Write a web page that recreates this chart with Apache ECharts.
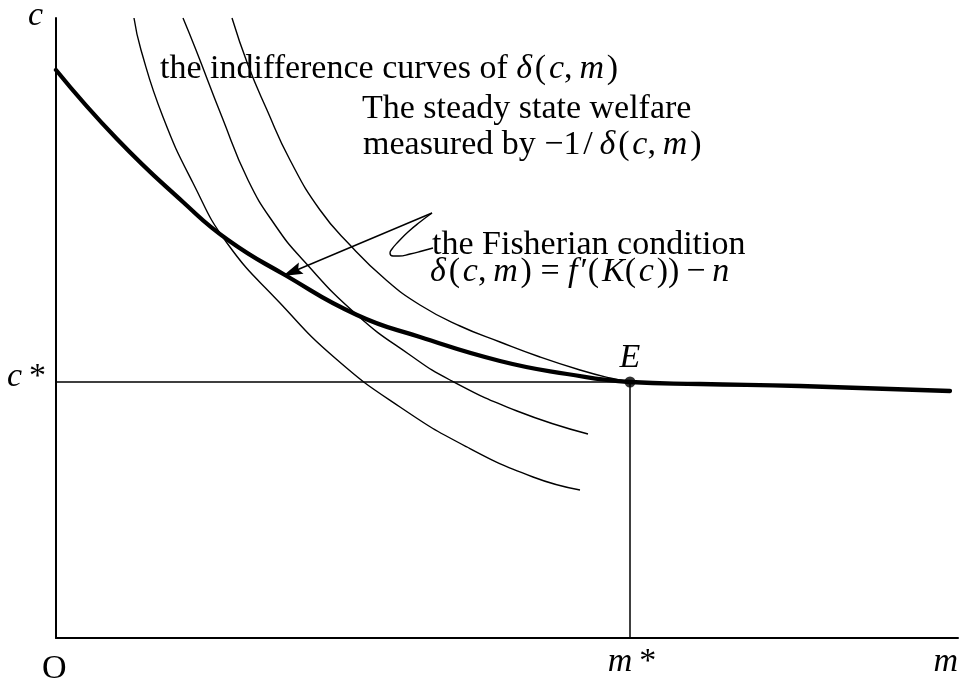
<!DOCTYPE html>
<html>
<head>
<meta charset="utf-8">
<script src="https://cdn.jsdelivr.net/npm/echarts@6/dist/echarts.min.js"></script>
<style>
  html, body { margin: 0; padding: 0; background: #fff; }
  #chart { width: 966px; height: 683px; }
</style>
</head>
<body>
<div id="chart"></div>
<script>
// Axis ranges (m horizontal, c vertical)
const mMax = 902;
const cMax = 620;

// Steady state point E = (m*, c*)
const mStar = 574;
const cStar = 256;

// Fisherian condition  δ(c,m) = f'(K(c)) − n
const fisherCurve = [
  [0, 568], [61, 499], [127, 436], [172, 398], [229, 363], [301, 323],
  [364, 301], [444, 277], [511, 264], [574, 256], [644, 254], [744, 252], [894, 247]
];

// Indifference curves of δ(c,m)
const indiffLow = [
  [78, 620], [85, 588], [107, 521], [137, 455], [171, 395], [224, 335],
  [279, 280], [344, 231], [411, 191], [477, 161], [524, 148]
];
const indiffMid = [
  [127, 620], [140, 588], [166, 521], [192, 458], [219, 413], [247, 378],
  [301, 323], [354, 283], [394, 258], [461, 227], [532, 204]
];
const indiffHigh = [
  [176, 620], [192, 573], [211, 528], [234, 478], [264, 428], [294, 393],
  [329, 359], [364, 333], [404, 312], [444, 296], [484, 281], [524, 268], [554, 260], [574, 256]
];

// Callout pointing at the Fisherian curve
const calloutTail = [376, 425];
const calloutHead = [236, 366];
const calloutLoop = [
  [376, 425], [364, 416], [352, 406], [342, 396], [336, 389], [334, 385],
  [337, 382], [343, 382], [354, 384], [366, 387], [377, 390]
];

const FONT = '"Liberation Serif", "Times New Roman", serif';
const FS = 34;
const rich = {
  i: { fontFamily: FONT, fontStyle: 'italic', fontSize: FS, fill: '#000', color: '#000' },
  n: { fontFamily: FONT, fontSize: FS, fill: '#000', color: '#000' }
};

const chart = echarts.init(document.getElementById('chart'), null, { renderer: 'canvas' });

const thin = { color: '#000', width: 1.4 };
const curveBase = { type: 'line', smooth: 0.5, symbol: 'none' };

chart.setOption({
  animation: false,
  backgroundColor: '#fff',
  grid: { left: 56, top: 18, width: 902, height: 620, containLabel: false },
  xAxis: {
    type: 'value', min: 0, max: mMax,
    axisLine: { show: true, onZero: false, lineStyle: { color: '#000', width: 2 } },
    axisTick: { show: false }, axisLabel: { show: false }, splitLine: { show: false }
  },
  yAxis: {
    type: 'value', min: 0, max: cMax,
    axisLine: { show: true, onZero: false, lineStyle: { color: '#000', width: 2 } },
    axisTick: { show: false }, axisLabel: { show: false }, splitLine: { show: false }
  },
  series: [
    Object.assign({}, curveBase, { data: indiffLow, lineStyle: thin, z: 2 }),
    Object.assign({}, curveBase, { data: indiffMid, lineStyle: thin, z: 2 }),
    Object.assign({}, curveBase, { data: indiffHigh, lineStyle: thin, z: 2 }),
    {
      type: 'line', data: [[0, cStar], [mStar, cStar], [mStar, 0]],
      symbol: 'none', lineStyle: { color: '#000', width: 1.5 }, z: 2
    },
    Object.assign({}, curveBase, {
      data: fisherCurve, lineStyle: { color: '#000', width: 4.3, cap: 'round' }, z: 3
    }),
    {
      type: 'line', data: calloutLoop, smooth: 0.5, symbol: 'none',
      lineStyle: thin, z: 4,
      markLine: {
        silent: true, symbol: ['none', 'path://M6,0 L12,18 L6,15 L0,18 Z'], symbolSize: [12, 20],
        lineStyle: { color: '#000', width: 1.4, type: 'solid' },
        itemStyle: { color: '#000' },
        label: { show: false },
        data: [[{ coord: calloutTail }, { coord: calloutHead }]]
      }
    },
    {
      type: 'scatter', data: [[mStar, cStar]], symbol: 'circle', symbolSize: 11,
      itemStyle: { color: '#000' }, z: 5
    }
  ]
});

// Annotation texts
const E = chart.convertToPixel({ gridIndex: 0 }, [mStar, cStar]);
const O = chart.convertToPixel({ gridIndex: 0 }, [0, 0]);
const END = chart.convertToPixel({ gridIndex: 0 }, [mMax, cMax]);

function txt(x, y, text, align) {
  return {
    type: 'text', silent: true, z: 10,
    style: {
      x: x, y: y, text: text, rich: rich,
      font: FS + 'px ' + FONT, fill: '#000',
      align: align || 'left', verticalAlign: 'middle'
    }
  };
}

const H = '\u200A';   // hair space
const T = '\u2009';   // thin space
const dcm = '{i|δ}' + H + '(' + H + '{i|c},' + T + '{i|m}' + H + ')';

chart.setOption({
  graphic: [
    txt(160, 69, 'the indifference curves of ' + dcm),
    txt(362, 109, 'The steady state welfare'),
    txt(363, 145, 'measured by −1' + H + '/' + T + dcm),
    txt(432, 245, 'the Fisherian condition'),
    txt(430, 272, dcm + ' = {i|f}' + H + '′(' + H + '{i|K}(' + H + '{i|c}' + H + '))' + T + '−' + T + '{i|n}'),
    txt(E[0], E[1] - 24, '{i|E}', 'center'),
    txt(O[0] - 28, END[1] - 2, '{i|c}'),
    txt(7, E[1] - 5, '{i|c}' + T + '*'),
    txt(O[0] - 14, O[1] + 31, 'O'),
    txt(E[0] + 2, O[1] + 24, '{i|m}' + T + '*', 'center'),
    txt(END[0], O[1] + 24, '{i|m}', 'right')
  ]
});
</script>
</body>
</html>
